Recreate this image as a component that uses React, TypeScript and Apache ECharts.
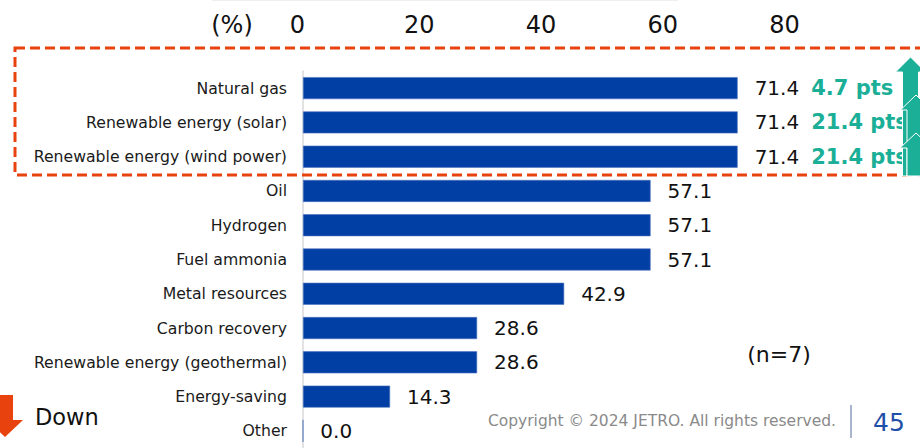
import React, { useEffect, useRef } from "react";
import * as echarts from "echarts";

const categories = [
  "Natural gas",
  "Renewable energy (solar)",
  "Renewable energy (wind power)",
  "Oil",
  "Hydrogen",
  "Fuel ammonia",
  "Metal resources",
  "Carbon recovery",
  "Renewable energy (geothermal)",
  "Energy-saving",
  "Other",
];
const values = [71.4, 71.4, 71.4, 57.1, 57.1, 57.1, 42.9, 28.6, 28.6, 14.3, 0.0];
const changes = ["4.7 pts", "21.4 pts", "21.4 pts", "", "", "", "", "", "", "", ""];
const xTicks = { min: 0, max: 80, interval: 20 };

const FONT = "DejaVu Sans";
const BLUE = "#023FA5";
const TEAL = "#1BAF97";
const RED = "#E8420F";

function upArrow(cx: number, tip: number, bottom: number, shaft: number, head: number) {
  const hb = tip + 15;
  return [
    [cx, tip],
    [cx + head, hb],
    [cx + shaft, hb],
    [cx + shaft, bottom],
    [cx - shaft, bottom],
    [cx - shaft, hb],
    [cx - head, hb],
  ];
}

export default function App() {
  const ref = useRef<HTMLDivElement>(null);
  useEffect(() => {
    if (!ref.current) return;
    const chart = echarts.init(ref.current, undefined, { renderer: "svg" });
    chart.setOption({
      animation: false,
      textStyle: { fontFamily: FONT },
      grid: { left: 303, top: 71, width: 487, height: 378.4, containLabel: false },
      xAxis: {
        type: "value",
        position: "top",
        min: xTicks.min,
        max: xTicks.max,
        interval: xTicks.interval,
        axisLine: { show: false },
        axisTick: { show: false },
        splitLine: { show: false },
        axisLabel: {
          fontSize: 24,
          color: "#111",
          fontFamily: FONT,
          margin: 34,
          padding: [0, 11, 0, 0],
        },
      },
      yAxis: {
        type: "category",
        inverse: true,
        data: categories,
        axisLine: { show: true, lineStyle: { color: "#d9d9d9", width: 1.5 } },
        axisTick: { show: false },
        axisLabel: { fontSize: 15.7, color: "#1a1a1a", fontFamily: FONT, margin: 16 },
      },
      series: [
        {
          type: "bar",
          data: values,
          barWidth: 22,
          itemStyle: { color: BLUE, borderColor: "#4d72bf", borderWidth: 0.6 },
          label: {
            show: true,
            position: "right",
            distance: 17,
            formatter: (p: any) => {
              const v = Number(p.value).toFixed(1);
              const c = changes[p.dataIndex];
              return c ? `{v|${v}}{g|${c}}` : `{v|${v}}`;
            },
            rich: {
              v: { fontSize: 20, color: "#111", fontFamily: FONT },
              g: {
                fontSize: 21,
                fontWeight: "bold",
                color: TEAL,
                fontFamily: FONT,
                padding: [0, 0, 0, 12],
              },
            },
          },
        },
      ],
      graphic: [
        { type: "line", shape: { x1: 212, y1: 0.5, x2: 678, y2: 0.5 }, style: { stroke: "#eeeeee", lineWidth: 1 } },
        {
          type: "text",
          x: 232,
          y: 25,
          style: { text: "(%)", fontSize: 24, fill: "#111", fontFamily: FONT, textAlign: "center", textVerticalAlign: "middle" },
        },
        {
          type: "rect",
          shape: { x: 15, y: 48, width: 940, height: 127 },
          style: { fill: "none", stroke: RED, lineWidth: 3, lineDash: [10, 5] },
          z: 10,
        },
        {
          type: "polygon",
          shape: { points: upArrow(910.5, 57, 176, 8, 15) },
          style: { fill: TEAL, stroke: "#fff", lineWidth: 1 },
          z: 11,
        },
        {
          type: "polygon",
          shape: { points: upArrow(916, 95, 176, 9, 15.5) },
          style: { fill: TEAL, stroke: "#fff", lineWidth: 1 },
          z: 12,
        },
        {
          type: "polygon",
          shape: { points: upArrow(916, 133, 176, 9, 16) },
          style: { fill: TEAL, stroke: "#fff", lineWidth: 1 },
          z: 13,
        },
        {
          type: "polygon",
          shape: { points: [[-3, 395], [13, 395], [13, 420], [23, 420], [5, 437], [-13, 420], [-3, 420]] },
          style: { fill: RED },
        },
        {
          type: "text",
          x: 35,
          y: 417,
          style: { text: "Down", fontSize: 22.5, fill: "#111", fontFamily: FONT, textVerticalAlign: "middle" },
        },
        {
          type: "text",
          x: 779,
          y: 354,
          style: { text: "(n=7)", fontSize: 22, fill: "#111", fontFamily: FONT, textAlign: "center", textVerticalAlign: "middle" },
        },
        {
          type: "text",
          x: 836,
          y: 421,
          style: {
            text: "Copyright © 2024 JETRO. All rights reserved.",
            fontSize: 15.5,
            fill: "#8a8a8a",
            fontFamily: FONT,
            textAlign: "right",
            textVerticalAlign: "middle",
          },
        },
        { type: "line", shape: { x1: 851, y1: 405, x2: 851, y2: 438 }, style: { stroke: "#A8B5CC", lineWidth: 2 } },
        {
          type: "text",
          x: 889,
          y: 422,
          style: { text: "45", fontSize: 25, fill: "#1F4FA8", fontFamily: FONT, textAlign: "center", textVerticalAlign: "middle" },
        },
      ],
    });
    return () => chart.dispose();
  }, []);
  return (
    <div
      ref={ref}
      style={{ position: "fixed", left: 0, top: 0, width: 920, height: 448, background: "#fff" }}
    />
  );
}
